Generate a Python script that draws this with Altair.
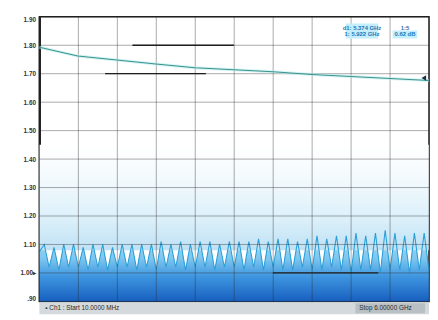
import altair as alt
import pandas as pd

# ---- data ----
x_grid = [0.01, 0.609, 1.208, 1.807, 2.406, 3.005, 3.604, 4.203, 4.802, 5.401, 6.0]
y_ticks = [0.9, 1.0, 1.1, 1.2, 1.3, 1.4, 1.5, 1.6, 1.7, 1.8, 1.9]

# upper (teal) trace
trace1_f = [0.01, 0.6, 1.2, 1.8, 2.4, 3.0, 3.6, 4.2, 4.8, 5.4, 6.0]
trace1_v = [1.793, 1.762, 1.748, 1.734, 1.721, 1.714, 1.707, 1.697, 1.690, 1.683, 1.676]

# lower oscillating trace: start value, then alternating peak / trough
osc_start = 1.075
osc_peaks = [1.10, 1.09, 1.10, 1.10, 1.09, 1.10, 1.10, 1.09, 1.10, 1.10,
             1.10, 1.10, 1.11, 1.10, 1.11, 1.10, 1.11, 1.11, 1.10, 1.11,
             1.11, 1.11, 1.12, 1.11, 1.12, 1.12, 1.11, 1.12, 1.13, 1.12,
             1.13, 1.13, 1.14, 1.13, 1.14, 1.15, 1.14, 1.13, 1.14, 1.14]
osc_troughs = [1.02, 1.01, 1.02, 1.02, 1.01, 1.02, 1.01, 1.02, 1.02, 1.01,
               1.02, 1.01, 1.02, 1.02, 1.01, 1.02, 1.02, 1.01, 1.02, 1.02,
               1.01, 1.02, 1.01, 1.02, 1.01, 1.01, 1.02, 1.01, 1.01, 1.02,
               1.01, 1.00, 1.01, 1.01, 1.00, 1.01, 1.01, 1.00, 1.01, 1.01]

# limit-line segments (start GHz, stop GHz, value)
limit_f1 = [1.44, 1.02, 3.60]
limit_f2 = [3.00, 2.57, 5.22]
limit_v = [1.80, 1.70, 1.00]

marker_f = [5.92]
marker_v = [1.685]

# ---- tables ----
osc_vals = [osc_start]
for p, t in zip(osc_peaks, osc_troughs):
    osc_vals += [p, t]
n = len(osc_vals)
osc_f = [0.01 + i * (6.0 - 0.01) / (n - 1) for i in range(n)]
osc = pd.DataFrame({"f": osc_f, "v": osc_vals})
tr1 = pd.DataFrame({"f": trace1_f, "v": trace1_v})
lim = pd.DataFrame({"f": limit_f1, "f2": limit_f2, "v": limit_v})
mk = pd.DataFrame({"f": marker_f, "v": marker_v})
hgrid = pd.DataFrame({"v": y_ticks})
vgrid = pd.DataFrame({"f": x_grid})

xs = alt.Scale(domain=[0.01, 6.0], nice=False, zero=False)
ys = alt.Scale(domain=[0.9, 1.9], nice=False, zero=False)

x_axis = alt.Axis(values=x_grid, tickCount=20, labels=False, ticks=False,
                  domain=False, title=None, grid=False)
y_axis = alt.Axis(
    values=y_ticks, tickCount=20, title=None, grid=False, ticks=False, labelFlush=True,
    labelOverlap=False,
    labelExpr="datum.value == 1 ? '1.00\u25B8' : (datum.value < 0.95 ? '.90' : format(datum.value, '.2f'))",
    labelFontSize=6.5, labelFontWeight="bold", labelColor="#333", labelPadding=4,
    domainColor="#1e1e1e", domainWidth=2.2)


def X(field="f"):
    return alt.X(f"{field}:Q", scale=xs, axis=x_axis)


def Y(field="v"):
    return alt.Y(f"{field}:Q", scale=ys, axis=y_axis)


base = alt.Chart(osc)

bg = alt.Chart(pd.DataFrame({"a": [0]})).mark_rect(
    fill=alt.Gradient(gradient="linear", x1=0, x2=0, y1=0, y2=1,
                      stops=[alt.GradientStop(color="#ffffff", offset=0),
                             alt.GradientStop(color="#f4fafd", offset=0.3),
                             alt.GradientStop(color="#dcf0fa", offset=0.7),
                             alt.GradientStop(color="#bfe1f4", offset=1)])
).encode(x=alt.datum(0.01), x2=alt.datum(6.0),
         y=alt.datum(1.45), y2=alt.datum(1.08))

area = base.mark_area(
    color=alt.Gradient(gradient="linear", x1=0, x2=0, y1=0, y2=1,
                       stops=[alt.GradientStop(color="#b4e2f7", offset=0),
                              alt.GradientStop(color="#7cc6ef", offset=0.4),
                              alt.GradientStop(color="#3f96e0", offset=0.65),
                              alt.GradientStop(color="#175fbf", offset=1)])
).encode(x=X(), y=Y(), y2=alt.datum(0.9))

osc_line = base.mark_line(color="#2a9fd8", strokeWidth=1.1).encode(x=X(), y=Y())

# grid drawn above the fills
hg = alt.Chart(hgrid).mark_rule(color="#2a2a2a", opacity=0.4, strokeWidth=1).encode(y=Y())
vg = alt.Chart(vgrid).mark_rule(color="#2a2a2a", opacity=0.4, strokeWidth=1).encode(x=X())

tr_glow = alt.Chart(tr1).mark_line(color="#aee8ea", strokeWidth=3, opacity=0.55).encode(x=X(), y=Y())
tr_line = alt.Chart(tr1).mark_line(color="#3b948e", strokeWidth=1.1).encode(x=X(), y=Y())

limits = alt.Chart(lim).mark_rule(color="#1f1f1f", strokeWidth=1.3).encode(
    x=X(), x2="f2:Q", y=Y())

marker = alt.Chart(mk).mark_point(shape="triangle-left", filled=True, color="#1c2f4a",
                                  size=30, opacity=1).encode(x=X(), y=Y())

# marker readout box (top right)
ann_box = alt.Chart(pd.DataFrame({"f": [4.72, 5.44], "f2": [5.22, 5.82],
                                  "v": [1.876, 1.852], "v2": [1.824, 1.824]})).mark_rect(
    color="#c4eefc").encode(x=X(), x2="f2:Q", y=Y(), y2="v2:Q")
ann_txt = alt.Chart(pd.DataFrame({
    "f": [4.97, 4.97, 5.63, 5.63],
    "v": [1.862, 1.838, 1.862, 1.838],
    "t": ["d1: 5.374 GHz", "1: 5.922 GHz", "1:5", "0.62 dB"]})).mark_text(
    fontSize=6, color="#1b78b8", fontWeight="bold").encode(x=X(), y=Y(), text="t:N")

# status bar under the plot
bar = alt.Chart(pd.DataFrame({"a": [0]})).mark_rect(color="#d3d9dc").encode(
    x=alt.value(0), x2=alt.value(397), y=alt.value(291), y2=alt.value(303))
bar2 = alt.Chart(pd.DataFrame({"a": [0]})).mark_rect(color="#b9c0c4").encode(
    x=alt.value(322), x2=alt.value(393), y=alt.value(292), y2=alt.value(302))
bar_txt = alt.Chart(pd.DataFrame({"x": [6, 326], "t": ["\u25AA Ch1 : Start 10.0000 MHz",
                                                     "Stop 6.00000 GHz"]})).mark_text(
    fontSize=6.5, color="#2a2a2a", align="left", baseline="middle").encode(
    x=alt.X("x:Q", scale=None), y=alt.value(297), text="t:N")

chart = alt.layer(area, bg, osc_line, hg, vg, tr_glow, tr_line, limits, marker,
                  ann_box, ann_txt, bar, bar2, bar_txt).properties(
    width=397, height=290,
    autosize=alt.AutoSizeParams(type="none"),
    padding={"left": 32, "top": 6, "right": 1, "bottom": 16},
    background="white"
).configure_view(stroke="#1e1e1e", strokeWidth=1.5)

chart.save("out.html", embed_options={"renderer": "svg", "actions": False})
